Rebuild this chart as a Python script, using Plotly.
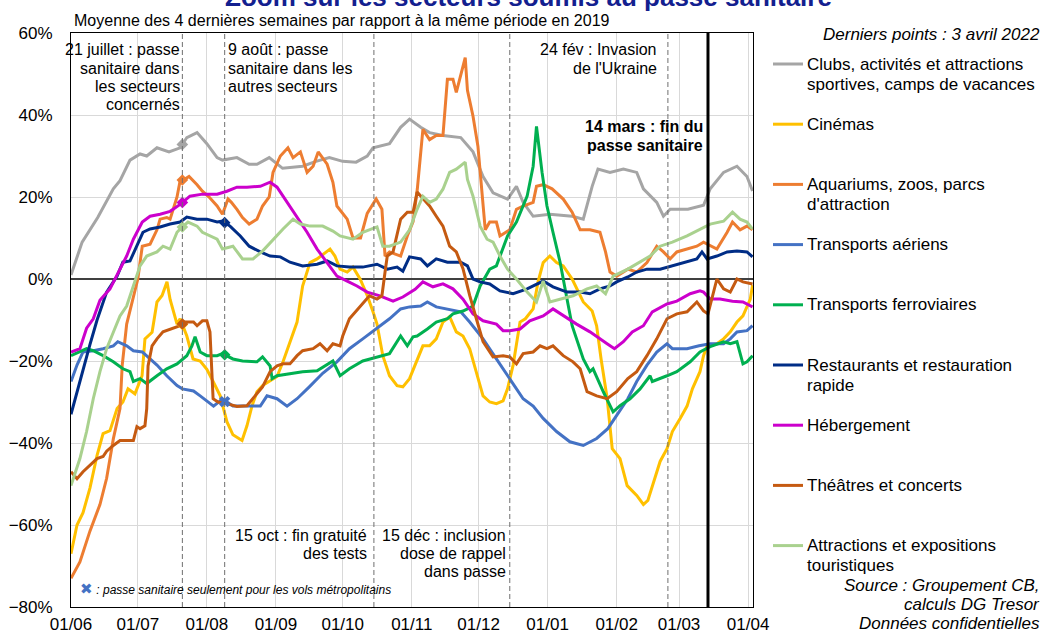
import numpy as np
import pandas as pd
import plotly.graph_objects as go

# Day offsets from 1 June 2021 and 4-week average change vs 2019 (%)
START = pd.Timestamp("2021-06-01")
END = pd.Timestamp("2022-04-03 05:00")

clubs = [(0, 1), (5, 9), (12, 15), (19, 22), (22, 24), (26.5, 29), (31, 30.5), (34, 30), (38.6, 32),
         (44, 31), (49, 32), (52, 34.5), (56.6, 35.7), (61, 33), (65.6, 29.6), (68, 29), (74.5, 29.6),
         (80, 28), (83.5, 28), (89, 29.6), (95, 27), (104, 27.5), (110, 28.7), (116, 29.6), (122, 28.7),
         (128, 28.5), (133, 30), (135.6, 32), (143, 33), (148, 37), (152, 39), (157, 37), (161, 35.7),
         (167, 35), (175, 34.5), (180.5, 31), (185, 25), (189.5, 21), (196, 19.5), (200, 22.6), (203, 18.7),
         (207.5, 15.3), (215, 15.8), (225, 15.3), (230, 14.6), (234, 22.6), (236.6, 26.8), (242, 26),
         (248, 26.8), (254, 26), (257, 22), (263, 18.7), (266, 15.3), (269, 17), (277, 17), (284, 18),
         (287, 22), (293, 26), (299, 27.5), (303.5, 25), (306, 21.5)]

cinemas = [(0, -67), (2.7, -60), (5.4, -57), (8.5, -51), (11.7, -43), (14.4, -37.7), (17.5, -37),
           (20.7, -31.6), (23.3, -30), (25.6, -26.8), (28.7, -28), (31.9, -23.6), (33.2, -14.6),
           (36.4, -13), (38.6, -5.6), (40.9, -4), (43.1, -0.7), (44.5, -5), (47.6, -11), (49, -9.7),
           (52, -13.9), (54.8, -19.5), (58, -20), (61, -22), (63.8, -25), (67, -28.5), (70, -34.8),
           (72.7, -38), (76.8, -39.4), (79, -35.8), (81.3, -30.9), (83.5, -27.5), (86, -26), (89.4, -24.8),
           (92.5, -23.8), (95.2, -20.2), (98.3, -15.3), (101.5, -10.5), (104, -1.7), (107.3, 4),
           (110.5, 4.9), (113, 6), (116.3, 7.3), (118.5, 5.6), (120.8, 2.4), (124, 1.7), (126.6, 2.9),
           (129.8, 0), (133, -4), (135.6, -8), (137.4, -11), (140, -18.7), (143, -23.6), (146.4, -26),
           (149, -26.3), (152, -24.3), (155.4, -19.5), (158, -16.3), (161, -16.3), (164, -14.6),
           (167, -10.5), (170, -9.2), (173, -12.9), (176, -13.9), (179, -17), (182, -22.6), (185, -28.5),
           (188, -30), (191, -30.4), (194, -29.7), (196, -26.8), (198.5, -21), (200, -15.3), (201.6, -10.5),
           (204, -9.7), (207.5, -7.3), (209.7, -0.7), (212, 4), (215, 5.6), (218, 4), (221, 3.2), (225, 0),
           (230, -5.6), (234, -7.8), (236, -11.4), (238, -19.5), (240.7, -29), (242, -35.8), (243, -41.4),
           (246.5, -43.8), (249.7, -50.4), (254, -52.8), (257, -55), (259, -54), (261, -50.4),
           (264.5, -44.5), (267.6, -41.4), (270, -37.2), (273.5, -34), (276.6, -31), (279, -26.8),
           (282.4, -22.6), (284, -18.7), (285.6, -16.3), (290, -15.8), (293, -14.6), (296, -12.9),
           (299, -10.5), (301.7, -9), (305, -4.9), (306, -1.5)]

aquariums = [(0, -73), (4, -69), (8.5, -61.5), (13, -55), (16, -48.6), (19, -39), (22, -31.6), (23, -21),
             (25, -11), (30, 0), (32, 8), (35.5, 8.5), (38.6, 12), (40, 14.6), (43, 15), (44.5, 14.6),
             (47.6, 20), (49, 24), (51, 24.3), (53, 25), (56.6, 23), (59, 21.4), (62, 20), (65.6, 17.8),
             (68, 15.8), (70.5, 19.5), (72, 18.7), (74.5, 17), (77, 15), (80, 13.4), (83.5, 14.6),
             (86, 17.8), (89, 20), (90.7, 26), (94, 30), (97.4, 32), (99.7, 29.6), (103, 31), (106, 26),
             (108.7, 27.5), (111, 31), (115, 28), (117.6, 23.6), (119.4, 17.8), (124, 14.6), (126.6, 10),
             (130, 10), (133, 16), (137, 19.5), (139.6, 17), (141, 5.6), (143, 6.6), (148, 5.6),
             (151, 10.5), (153.6, 14), (155.5, 22), (158, 36.5), (161, 34), (164, 35), (167, 35),
             (169, 48.7), (171.5, 48.7), (173, 45.5), (177, 54), (178, 46), (180.5, 39.7), (182.7, 32.4),
             (186, 12), (188, 13.9), (191, 13.9), (192.6, 10.5), (197, 12), (200, 17), (203, 17.8),
             (207.5, 18.7), (209, 22.6), (212, 23), (216, 22), (221, 19.5), (225, 16.3), (228.6, 12),
             (233, 12), (237.5, 11.4), (240, 6.6), (242, 1.7), (245, 0.7), (250, 2.4), (254, 1.7),
             (258.6, 4), (263, 8), (266, 6.6), (269, 4.9), (272, 6.6), (276.6, 7.3), (281, 8), (284, 9),
             (288, 8), (290, 7.3), (294.6, 11.4), (297, 13.9), (300.4, 12), (303.5, 12.9), (306, 12)]

aeriens = [(0, -25), (2.7, -21), (5.4, -17.8), (10, -17.5), (14.4, -17), (19, -16.3), (21, -15.3),
           (25, -16.3), (28, -17.5), (32, -17.8), (35.5, -19.5), (38.6, -21), (43, -23.6), (47.6, -26),
           (50, -26.8), (55, -27.3), (58, -28.5), (61, -29.7), (64, -31), (67, -29.7), (70, -30),
           (72.7, -31), (77, -31), (85, -31), (88, -28.5), (92.5, -29.2), (97, -31), (101.5, -29.2),
           (107, -26.3), (113, -23), (119.4, -20.2), (125, -17), (131, -14.6), (137, -12.2), (143, -9.7),
           (148, -7.3), (152, -6.8), (157, -6.6), (160, -5.6), (164, -6.8), (169, -7.3), (175, -8),
           (179, -10.5), (185, -14.6), (191, -19.5), (197, -24.3), (203, -29.2), (207.5, -31), (212, -34),
           (218, -37.2), (224, -39.7), (230, -40.6), (236, -38.9), (241, -36.5), (245, -33.3), (250, -29.2),
           (254, -25), (258.6, -21), (263, -17.8), (267.6, -15.8), (270, -17), (276.6, -17), (282, -16.3),
           (287, -15.8), (293, -15.8), (296, -14.6), (299, -12.9), (303.5, -12.6), (306, -11.4)]

ferroviaires = [(0, -18.7), (4, -17.8), (7, -17), (10, -17.5), (14.4, -18.7), (19, -20.2), (23.3, -21.9),
                (26.5, -22.6), (28, -25), (31, -24.3), (34, -25.5), (38.6, -23.6), (43, -21.9), (47.6, -20.7),
                (52, -18.7), (54.3, -16.3), (55.7, -14.1), (58, -17.8), (61, -18.7), (65.6, -18.7),
                (68, -18.2), (72.7, -19.5), (77, -20), (83.5, -20.2), (86, -19), (89.4, -21.2), (90.3, -24.3),
                (92.5, -23.6), (98.3, -23.1), (104, -22.6), (110.5, -22.4), (117.6, -20), (120.8, -23.6),
                (125, -21.9), (131, -20), (137.4, -19), (143, -18.2), (148, -13.9), (151, -16.3),
                (153.6, -14.1), (155.4, -13.9), (160, -12.2), (164, -10.5), (169, -9.7), (171.5, -8.5),
                (176, -7.8), (180.5, -6.6), (183.7, -1.7), (188, 2.4), (191, 3.2), (196, 10.5), (200, 13.9),
                (204.8, 20.2), (207.5, 27.5), (209, 37.2), (211.5, 26), (213.7, 17.8), (216.4, 11.4),
                (219.6, 4.1), (222.7, -4.9), (225, -11.4), (230, -19.5), (233, -22.6), (234.4, -21.9),
                (239, -27.5), (243.4, -32.4), (246.5, -30.9), (251, -29.2), (255.5, -26.8), (260, -23.6),
                (261, -25), (267.6, -23.6), (272, -22.6), (278, -20.2), (282.4, -17.8), (287, -16.5),
                (293, -15.3), (296, -15.8), (299, -15.3), (301.7, -20.7), (303.5, -20.2), (306, -18.7)]

restaurants = [(0, -33), (2.7, -27.5), (5.4, -22), (8.5, -16), (11.7, -10), (16, -3.2), (20.7, 0.7),
               (23.3, 4.1), (26.5, 4.4), (29.6, 8), (32.3, 11.4), (35.5, 12.2), (40, 12.7), (44.5, 13.4),
               (49, 13.9), (52, 15.1), (56.6, 14.6), (61, 14.6), (65.6, 13.9), (68, 14.1), (71.4, 12.9),
               (76, 10.5), (80, 8), (85, 6.6), (89.4, 5.6), (94, 5.4), (98.3, 4.1), (104, 3.2), (110.5, 3.6),
               (115, 4.4), (119.4, 3.2), (125, 2.9), (131, 2.9), (137.4, 3.6), (142, 2.4), (146.4, 2.9),
               (149, 1.9), (152, 5.4), (157, 4.9), (160, 3.2), (164, 4.9), (169, 4.1), (175, 4.1), (178, 3.2),
               (180.5, 0), (183.7, -0.7), (188, -1.2), (192.6, -2.9), (198.5, -3.6), (204.8, -2.4),
               (207.5, -1.7), (212, -0.5), (216.4, -1.9), (222.7, -3.2), (228.6, -3.2), (233, -3.6),
               (237.5, -2.4), (242, -1.7), (245, -0.7), (250, 0.5), (254, 1.7), (258.6, 2.4), (264.5, 2.4),
               (270, 3.2), (276.6, 4.1), (281, 4.9), (283.3, 6.6), (285.6, 4.9), (290, 5.6), (294.6, 6.6),
               (299, 6.8), (303.5, 6.6), (306, 5.4)]

hebergement = [(0, -17.8), (4, -17), (7, -12), (10, -9.7), (13, -5.2), (17.5, -2.4), (22, 2.4), (25, 5.6),
               (28, 9.7), (32, 13.9), (35.5, 15.3), (40, 15.8), (44.5, 16.5), (49, 18.2), (53.4, 20.2),
               (59, 20.7), (65.6, 20.7), (70, 21.4), (74.5, 22.4), (79, 22.4), (85, 22.6), (89.4, 23.6),
               (92.5, 22.4), (97, 18.7), (101.5, 15.1), (106, 11.4), (110.5, 7.3), (115, 4.1), (119.4, 0.7),
               (124, -0.5), (128.4, -1.7), (133, -3.2), (138.7, -4.1), (144.6, -5.4), (149, -4.4),
               (154.5, -2.5), (158, -0.7), (162.5, -1.9), (167, -1.2), (171.5, -2.4), (176, -4.9),
               (180.5, -8.5), (185, -10.2), (191, -11), (194, -12.6), (197, -12.6), (201.6, -12.2),
               (206, -10.2), (212, -9), (216.4, -7.3), (221, -9), (227, -11), (233, -12.9), (236, -14.1),
               (240.7, -15.8), (244, -17), (248, -15.3), (252, -12.9), (257, -11.4), (261, -8), (267.6, -6.1),
               (272, -5.4), (278, -3.6), (282.4, -2.9), (284, -3.2), (287, -4.9), (291.4, -4.9), (297, -5.4),
               (301.7, -5.6), (306, -6.8)]

theatres = [(0, -47), (2.7, -48.7), (5.4, -47), (8.5, -45.5), (11.7, -43.8), (14.4, -43.3), (16, -42),
            (19, -40.6), (22, -39.4), (28, -39.4), (29.6, -36), (31, -36.5), (33.2, -35.8), (34, -31.6),
            (34.6, -21.2), (36.4, -16.3), (38.6, -14.6), (41.3, -12.9), (44.5, -12.2), (49, -11.4),
            (51, -10.5), (55, -10.5), (56.6, -11.4), (59, -10.2), (61, -10.2), (62.4, -12.9), (63.8, -29.2),
            (66, -30), (70, -30.4), (74.5, -31.1), (79, -30.9), (81.7, -29.2), (86, -26.3), (89.4, -22.6),
            (92.5, -21.2), (95.2, -20.7), (98.3, -20.7), (101.5, -18.7), (104, -17.5), (108.7, -17),
            (111.8, -15.8), (115, -17.5), (117.6, -15.8), (120.8, -16.3), (122, -13.9), (125, -9.7),
            (129.8, -6.6), (134, -4.1), (137.4, -4.9), (139.6, -4.1), (141, 1.7), (142, 5.6), (144.6, 6.6),
            (148, 14.6), (151, 16.3), (153.6, 16.3), (155.4, 21.2), (158, 19.5), (161, 17.8), (164, 15.3),
            (167, 12.9), (170, 8), (173, 6.6), (176, 2.5), (179, -4), (182, -9.7), (185, -15.3),
            (189.5, -19), (194, -18.7), (197, -19), (200, -20.7), (203, -18.2), (207.5, -17.8),
            (210.6, -16.3), (213.7, -17), (216.4, -16.3), (221, -18.7), (225.4, -20.2), (228.6, -21.9),
            (231.7, -27.5), (236, -28.5), (240.7, -29.2), (245, -27.5), (250, -24.3), (254, -22.6),
            (258.6, -18.7), (263, -14.6), (267.6, -9.7), (272, -8.5), (276.6, -8), (281, -5.6), (284, -7.8),
            (286, -8.5), (290, 0), (293, -2.4), (296, -3.2), (299, 0), (301.7, -0.7), (306, -1.2)]

attractions = [(0, -50.4), (4, -43.8), (7, -37.2), (10, -29.2), (13, -22.6), (16, -17), (19, -13), (22, -9),
               (25, -6.6), (28, -1.7), (31, 3.2), (34, 5.6), (38.6, 6.6), (41.3, 8), (44.5, 7.3), (47.6, 11.4),
               (49, 12.2), (52.5, 13.9), (56.6, 12.9), (59, 11.4), (62.4, 10.5), (65.6, 9.7), (68, 7.3),
               (72.7, 8), (77, 4.9), (81.7, 4.9), (86, 6.8), (90.7, 9.7), (95.2, 12.2), (99.7, 14.6),
               (103, 13.4), (107.3, 12.9), (113, 12.9), (117.6, 11.7), (120.8, 10.5), (126.6, 9.7),
               (131, 11.4), (137.4, 12.7), (140, 8), (143, 8), (148, 9), (152, 12), (155.4, 17), (158, 20.2),
               (161, 18.7), (164, 19.5), (167, 21.9), (170, 26), (173, 26.8), (177, 28.5), (178, 24.3),
               (180.5, 20.2), (183.7, 12.9), (186.8, 9.7), (189.5, 9), (192.6, 5.6), (196, 2.4), (200, 0),
               (204.8, -3.2), (209, -5.6), (212, -0.5), (215, -5.6), (219.6, -4.9), (225.4, -4.1),
               (231.7, -2.4), (236, -1.7), (240, -3.6), (243.4, 0.7), (250, 2.4), (255.5, 4.1), (260, 5.6),
               (264.5, 8), (270, 9), (276.6, 10.5), (282.4, 12.2), (287, 13.4), (293, 14.1), (297, 16.3),
               (300.4, 14.6), (303.5, 13.9), (306, 12.2)]

# (legend lines, colour, data, date of the pass marker, marker symbol)
SERIES = [
    (["Clubs, activités et attractions", "sportives, camps de vacances"], "#A5A5A5", clubs, "2021-07-21", "diamond"),
    (["Cinémas"], "#FFC000", cinemas, "2021-07-21", "diamond"),
    (["Aquariums, zoos, parcs", "d'attraction"], "#ED7D31", aquariums, "2021-07-21", "diamond"),
    (["Transports aériens"], "#4472C4", aeriens, "2021-08-09", "x"),
    (["Transports ferroviaires"], "#00B050", ferroviaires, "2021-08-09", "diamond"),
    (["Restaurants et restauration", "rapide"], "#002D86", restaurants, "2021-08-09", "diamond"),
    (["Hébergement"], "#CC00CC", hebergement, "2021-07-21", "diamond"),
    (["Théâtres et concerts"], "#C55A11", theatres, "2021-07-21", "diamond"),
    (["Attractions et expositions", "touristiques"], "#A9D18E", attractions, "2021-07-21", "diamond"),
]

# Policy milestones: date, line style, text lines, side of the line, gap (px), top of text (px), bold
EVENTS = [
    ("2021-07-21", "dash", ["21 juillet : passe", "sanitaire dans", "les secteurs", "concernés"], "right", 0, 50, False),
    ("2021-08-09", "dash", ["9 août : passe", "sanitaire dans les", "autres secteurs"], "left", 1, 50, False),
    ("2021-10-15", "dash", ["15 oct : fin gratuité", "des tests"], "right", 5, 535, False),
    ("2021-12-15", "dash", ["15 déc : inclusion", "dose de rappel", "dans passe"], "right", 2, 535, False),
    ("2022-02-24", "dash", ["24 fév : Invasion", "de l'Ukraine"], "right", 9, 50, False),
    ("2022-03-14", "solid", ["14 mars : fin du", "passe sanitaire"], "right", 3, 127, True),
]

FONT = "Liberation Sans, Arial, sans-serif"
W, H = 1047, 635
PL, PR, PT, PB = 71, 753, 33, 607  # plot area in page pixels


def px_x(px):
    return (px - PL) / (PR - PL)


def px_y(py):
    return (PB - py) / (PB - PT)


def to_dates(days):
    return [START + pd.Timedelta(days=float(d)) for d in days]


fig = go.Figure()

for lines, color, data, mark_date, symbol in SERIES:
    days = [d for d, _ in data]
    vals = [v for _, v in data]
    fig.add_trace(go.Scatter(x=to_dates(days), y=vals, mode="lines",
                             line=dict(color=color, width=3), name=" ".join(lines),
                             showlegend=False, hoverinfo="skip"))

# Markers where the sanitary pass started applying to each sector
for lines, color, data, mark_date, symbol in SERIES:
    days = np.array([d for d, _ in data])
    vals = np.array([v for _, v in data])
    md = (pd.Timestamp(mark_date) - START).days
    mv = float(np.interp(md, days, vals))
    fig.add_trace(go.Scatter(x=[pd.Timestamp(mark_date)], y=[mv], mode="markers",
                             marker=dict(symbol=symbol, size=9 if symbol == "diamond" else 10,
                                         color=color, line=dict(width=0)),
                             showlegend=False, hoverinfo="skip"))

shapes = []
annotations = []

for date, style, text_lines, side, gap, top, bold in EVENTS:
    if style == "solid":
        shapes.append(dict(type="line", xref="x", yref="paper", x0=date, x1=date, y0=0, y1=1,
                           line=dict(color="black", width=3), layer="above"))
    else:
        shapes.append(dict(type="line", xref="x", yref="paper", x0=date, x1=date, y0=0, y1=1,
                           line=dict(color="#6F6F6F", width=1, dash="5px,3px"), layer="above"))
    for i, t in enumerate(text_lines):
        annotations.append(dict(
            x=date, xref="x", y=px_y(top + i * 18.3), yref="paper",
            text=f"<b>{t}</b>" if bold else t, showarrow=False,
            xanchor="right" if side == "right" else "left",
            xshift=-gap if side == "right" else gap,
            yanchor="middle", font=dict(family=FONT, size=16, color="black")))

# Legend drawn at the right of the plot
for i, (lines, color, data, mark_date, symbol) in enumerate(SERIES):
    y0 = 64 + i * 60.2
    shapes.append(dict(type="line", xref="paper", yref="paper", x0=px_x(773), x1=px_x(803),
                       y0=px_y(y0), y1=px_y(y0), line=dict(color=color, width=3)))
    for j, t in enumerate(lines):
        annotations.append(dict(x=px_x(805), xref="paper", y=px_y(y0 + j * 20), yref="paper",
                                text=t, showarrow=False, xanchor="left", yanchor="middle",
                                font=dict(family=FONT, size=17, color="black")))

# Title, subtitle and notes
annotations.append(dict(x=px_x(528), xref="paper", y=px_y(-3), yref="paper",
                        text="<b>Zoom sur les secteurs soumis au passe sanitaire</b>", showarrow=False,
                        xanchor="center", yanchor="middle",
                        font=dict(family=FONT, size=26, color="#13208F")))
annotations.append(dict(x=px_x(72), xref="paper", y=px_y(20), yref="paper",
                        text="Moyenne des 4 dernières semaines par rapport à la même période en 2019",
                        showarrow=False, xanchor="left", yanchor="middle",
                        font=dict(family=FONT, size=16, color="black")))
annotations.append(dict(x=px_x(1042), xref="paper", y=px_y(35), yref="paper",
                        text="<i>Derniers points : 3 avril 2022</i>", showarrow=False,
                        xanchor="right", yanchor="middle", font=dict(family=FONT, size=17, color="black")))
for j, t in enumerate(["Source : Groupement CB,", "calculs DG Tresor", "Données confidentielles"]):
    annotations.append(dict(x=px_x(1042), xref="paper", y=px_y(585 + j * 19), yref="paper",
                            text=f"<i>{t}</i>", showarrow=False, xanchor="right", yanchor="middle",
                            font=dict(family=FONT, size=17, color="black")))
annotations.append(dict(x=px_x(78), xref="paper", y=px_y(588), yref="paper",
                        text="<span style='color:#4472C4;font-size:15px'>✖</span><i> : passe sanitaire seulement pour les vols métropolitains</i>",
                        showarrow=False, xanchor="left", yanchor="middle",
                        font=dict(family=FONT, size=12, color="black")))

fig.update_layout(
    width=W, height=H,
    margin=dict(l=PL, r=W - PR, t=PT, b=H - PB, pad=0, autoexpand=False),
    paper_bgcolor="white", plot_bgcolor="white",
    font=dict(family=FONT, size=17, color="black"),
    shapes=shapes, annotations=annotations,
    showlegend=False,
)
fig.update_xaxes(type="date", range=[START, END], tick0="2021-06-01", dtick="M1", tickformat="%d/%m",
                 showgrid=True, gridcolor="#D9D9D9", gridwidth=1, automargin=False,
                 showline=True, linecolor="black", linewidth=1, mirror=True,
                 ticks="", ticklabelstandoff=2, tickfont=dict(size=17, color="black"))
fig.update_yaxes(range=[-80, 60], tick0=0, dtick=20, ticksuffix="%",
                 showgrid=True, gridcolor="#D9D9D9", gridwidth=1, automargin=False,
                 zeroline=True, zerolinecolor="#404040", zerolinewidth=1.5,
                 showline=True, linecolor="black", linewidth=1, mirror=True,
                 ticks="", ticklabelstandoff=14, tickfont=dict(size=17, color="black"))

fig.write_html("out.html")
